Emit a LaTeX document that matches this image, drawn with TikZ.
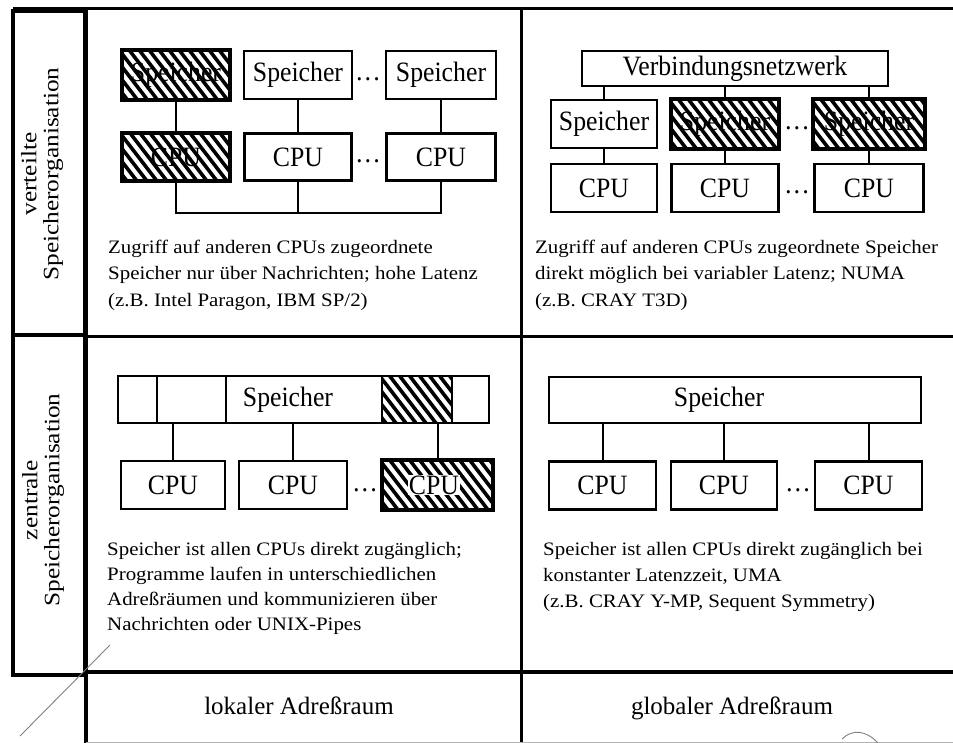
\documentclass[tikz,border=0pt]{standalone}
\usepackage{fontspec}
\setmainfont{Liberation Serif}
\newfontfamily\boxfont[FakeStretch=0.92]{Liberation Serif}
\newfontfamily\descfont[FakeStretch=1.1]{Liberation Serif}
\newfontfamily\sidefont[FakeStretch=1.15]{Liberation Serif}
\usetikzlibrary{calc}

\tikzset{
  unit/.style={draw, line width=2.6pt, inner sep=0pt, minimum height=48pt,
    font=\boxfont\fontsize{28}{30}\selectfont},
  boxline/.style={line width=2.6pt},
  wire/.style={line width=2pt},
  gridline/.style={line width=3pt},
  thickgrid/.style={line width=4.5pt},
  hatchline/.style={line width=3.6pt},
  desc/.style={anchor=base west, align=left, inner sep=0pt,
    font=\descfont\fontsize{19}{26}\selectfont},
  side/.style={rotate=90, align=center, inner sep=0pt,
    font=\sidefont\fontsize{22}{22}\selectfont},
  dotsnode/.style={anchor=base, inner sep=0pt, font=\boxfont\fontsize{28}{30}\selectfont},
  axislabel/.style={anchor=base, inner sep=0pt, font=\fontsize{25}{30}\selectfont},
  scan/.style={line width=0.9pt, gray},
}

% hatch a rectangle given its top-left (#1) and bottom-right (#2) corners
\newcommand\hatchrect[2]{%
  \begin{scope}
    \clip #1 rectangle #2;
    \foreach \k in {-9,...,14}
      \draw[hatchline] ($#1+({\k*10},-10)$) -- ++(70,91);
  \end{scope}%
  \draw[boxline] #1 rectangle #2;
}

\begin{document}
\begin{tikzpicture}[x=1pt,y=-1pt]
\useasboundingbox (0,0) rectangle (953,743);

% ---------------- frame ----------------
\draw[thickgrid] (13,11) rectangle (85,675);
\draw[thickgrid] (13,335) -- (85,335);
\draw[thickgrid] (86,9) -- (86,743);
\draw[gridline] (13,9) -- (953,9);
\draw[gridline] (86,336) -- (953,336);
\draw[thickgrid] (86,672) -- (953,672);
\draw[gridline] (521,9) -- (521,743);
\draw[line width=1pt, gray!60] (86,742) -- (953,742);
\draw[scan] (20,736) -- (110,645);
\draw[scan] (842,739) .. controls (852,729) and (866,730) .. (878,743);

% ---------------- side labels ----------------
\node[side] (lblv) at (42,174) {verteilte\\Speicherorganisation};
\node[side] (lblz) at (43,500) {zentrale\\Speicherorganisation};
\node[axislabel] (lokal) at (299,714) {lokaler Adreßraum};
\node[axislabel] (global) at (732,714) {globaler Adreßraum};

% ---------------- top left: verteilt / lokal ----------------
\node[unit, minimum width=107pt] (tls1) at (176,75) {Speicher};
\node[unit, minimum width=108pt] (tls2) at (298,75) {Speicher};
\node[unit, minimum width=110pt] (tls3) at (441,75) {Speicher};
\node[unit, minimum width=106pt, minimum height=47pt] (tlc1) at (176,157) {CPU};
\node[unit, minimum width=107pt, minimum height=47pt] (tlc2) at (298,157) {CPU};
\node[unit, minimum width=109pt, minimum height=47pt] (tlc3) at (441,157) {CPU};
\node[dotsnode] (tld1) at (368,89) {···};
\node[dotsnode] (tld2) at (368,171) {···};
\hatchrect{(tls1.north west)}{(tls1.south east)}
\hatchrect{(tlc1.north west)}{(tlc1.south east)}
\draw[wire] (tls1) -- (tlc1);
\draw[wire] (tls2) -- (tlc2);
\draw[wire] (tls3) -- (tlc3);
\coordinate (tlbus) at (0,213);
\draw[wire] (tlc1.south) -- (tlc1.south |- tlbus) -- (tlc3.south |- tlbus) -- (tlc3.south);
\draw[wire] (tlc2.south) -- (tlc2.south |- tlbus);
\node[desc] (tltext) at (108,306) {Zugriff auf anderen CPUs zugeordnete\\Speicher nur über Nachrichten; hohe Latenz\\(z.B. Intel Paragon, IBM SP/2)};

% ---------------- top right: verteilt / global ----------------
\node[unit, minimum width=306pt, minimum height=35pt] (trnet) at (735,68.5) {\raisebox{2pt}{Verbindungsnetzwerk}};
\node[unit, minimum width=106pt] (trs1) at (604,124) {Speicher};
\node[unit, minimum width=107pt] (trs2) at (725,124) {Speicher};
\node[unit, minimum width=110pt] (trs3) at (869,124) {Speicher};
\node[unit, minimum width=106pt] (trc1) at (604,188) {CPU};
\node[unit, minimum width=107pt] (trc2) at (725,188) {CPU};
\node[unit, minimum width=109pt] (trc3) at (869,188) {CPU};
\node[dotsnode] (trd1) at (797,138) {···};
\node[dotsnode] (trd2) at (797,202) {···};
\hatchrect{(trs2.north west)}{(trs2.south east)}
\hatchrect{(trs3.north west)}{(trs3.south east)}
\draw[wire] (trs1.north) -- (trs1.north |- trnet.south);
\draw[wire] (trs2.north) -- (trs2.north |- trnet.south);
\draw[wire] (trs3.north) -- (trs3.north |- trnet.south);
\draw[wire] (trs1) -- (trc1);
\draw[wire] (trs2) -- (trc2);
\draw[wire] (trs3) -- (trc3);
\node[desc] (trtext) at (535,306) {Zugriff auf anderen CPUs zugeordnete Speicher\\direkt möglich bei variabler Latenz; NUMA\\(z.B. CRAY T3D)};

% ---------------- bottom left: zentral / lokal ----------------
\node[unit, minimum width=371pt, minimum height=47pt] (blbar) at (303.5,399.5) {};
\node[inner sep=0pt, font=\boxfont\fontsize{28}{30}\selectfont] (blmem) at (288,399.5) {Speicher};
\draw[boxline] (157,376) -- (157,423);
\draw[boxline] (226,376) -- (226,423);
\draw[boxline] (382,376) -- (382,423);
\draw[boxline] (452,376) -- (452,423);
\coordinate (blh1) at (382,376);
\coordinate (blh2) at (452,423);
\hatchrect{(blh1)}{(blh2)}
\node[unit, minimum width=104pt] (blc1) at (173,485) {CPU};
\node[unit, minimum width=108pt] (blc2) at (293,485) {CPU};
\node[unit, minimum width=109pt] (blc3) at (437.5,485) {};
\node[dotsnode] (bld) at (365,499) {···};
\hatchrect{(blc3.north west)}{(blc3.south east)}
\node[fill=white, inner sep=1pt, font=\boxfont\fontsize{28}{30}\selectfont] (blc3t) at (434,485) {CPU};
\draw[wire] (blc1.north) -- (blc1.north |- blbar.south);
\draw[wire] (blc2.north) -- (blc2.north |- blbar.south);
\draw[wire] (blc3.north) -- (blc3.north |- blbar.south);
\node[desc, font=\descfont\fontsize{19}{25}\selectfont] (bltext) at (107,630) {Speicher ist allen CPUs direkt zugänglich;\\Programme laufen in unterschiedlichen\\Adreßräumen und kommunizieren über\\Nachrichten oder UNIX-Pipes};

% ---------------- bottom right: zentral / global ----------------
\node[unit, minimum width=372pt, minimum height=46pt] (brbar) at (735,400) {};
\node[inner sep=0pt, font=\boxfont\fontsize{28}{30}\selectfont] (brmem) at (719,400) {Speicher};
\node[unit, minimum width=107pt] (brc1) at (602.5,485.5) {CPU};
\node[unit, minimum width=106pt] (brc2) at (724,485.5) {CPU};
\node[unit, minimum width=107pt] (brc3) at (868.5,485.5) {CPU};
\node[dotsnode] (brd) at (798,499) {···};
\draw[wire] (brc1.north) -- (brc1.north |- brbar.south);
\draw[wire] (brc2.north) -- (brc2.north |- brbar.south);
\draw[wire] (brc3.north) -- (brc3.north |- brbar.south);
\node[desc] (brtext) at (543,607) {Speicher ist allen CPUs direkt zugänglich bei\\konstanter Latenzzeit, UMA\\(z.B. CRAY Y-MP, Sequent Symmetry)};

\end{tikzpicture}
\end{document}
